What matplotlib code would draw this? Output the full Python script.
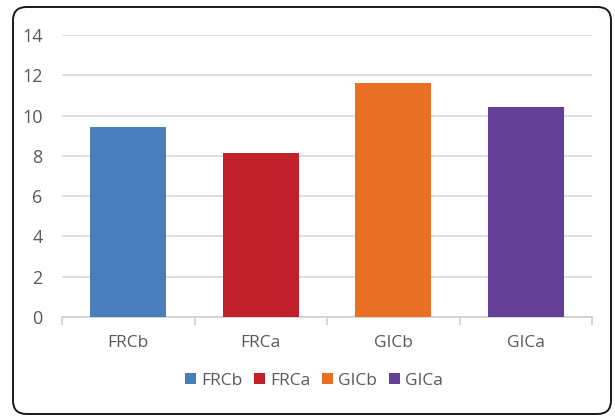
import matplotlib
matplotlib.use("Agg")
import matplotlib.pyplot as plt
from matplotlib.patches import FancyBboxPatch, Patch

categories = ["FRCb", "FRCa", "GICb", "GICa"]
values = [9.43, 8.14, 11.62, 10.43]
colors = ["#4a7ebb", "#c0202a", "#e87024", "#643f98"]
yticks = [0, 2, 4, 6, 8, 10, 12, 14]

plt.rcParams['font.family'] = ['Open Sans', 'DejaVu Sans']
W, H = 615, 418
fig = plt.figure(figsize=(W/100, H/100), dpi=100)

# outer rounded frame
frame = FancyBboxPatch((13/W, 4/H), (611-13)/W, (411-4)/H,
                       boxstyle="round,pad=0,rounding_size=0.022",
                       transform=fig.transFigure, fill=False,
                       edgecolor="#1a1a1a", linewidth=1.4, mutation_aspect=W/H)
fig.patches.append(frame)

ax = fig.add_axes([62/W, 1-317/H, (592-62)/W, (317-35)/H])
x = list(range(len(categories)))
ax.bar(x, values, width=0.57, color=colors, zorder=3)
ax.set_xlim(-0.5, 3.5)
ax.set_ylim(0, 14)
ax.set_yticks(yticks)
ax.set_yticklabels([str(t) for t in yticks])
ax.yaxis.grid(True, color="#d9d9d9", linewidth=1.2, zorder=0)
for s in ["top", "right", "left"]:
    ax.spines[s].set_visible(False)
ax.spines["bottom"].set_color("#d0d0d0")
ax.spines["bottom"].set_linewidth(1.2)
ax.tick_params(axis="y", length=0, labelsize=13, labelcolor="#595959", pad=14)
ax.set_xticks([-0.5, 0.5, 1.5, 2.5, 3.5])
ax.set_xticklabels([])
ax.set_xticks(x, minor=True)
ax.set_xticklabels(categories, minor=True)
ax.tick_params(axis="x", which="major", length=6, color="#d0d0d0", width=1.2)
ax.tick_params(axis="x", which="minor", length=0, labelsize=12.5, labelcolor="#595959", pad=13)

handles = [Patch(facecolor=c, label=l) for c, l in zip(colors, categories)]
leg = fig.legend(handles=handles, loc="center", bbox_to_anchor=(314/W, 1-381/H),
                 ncol=4, frameon=False, fontsize=12.5, handlelength=0.6, handleheight=0.6,
                 handletextpad=0.3, columnspacing=0.7, labelcolor="#595959")

fig.savefig("out.png", dpi=100)
